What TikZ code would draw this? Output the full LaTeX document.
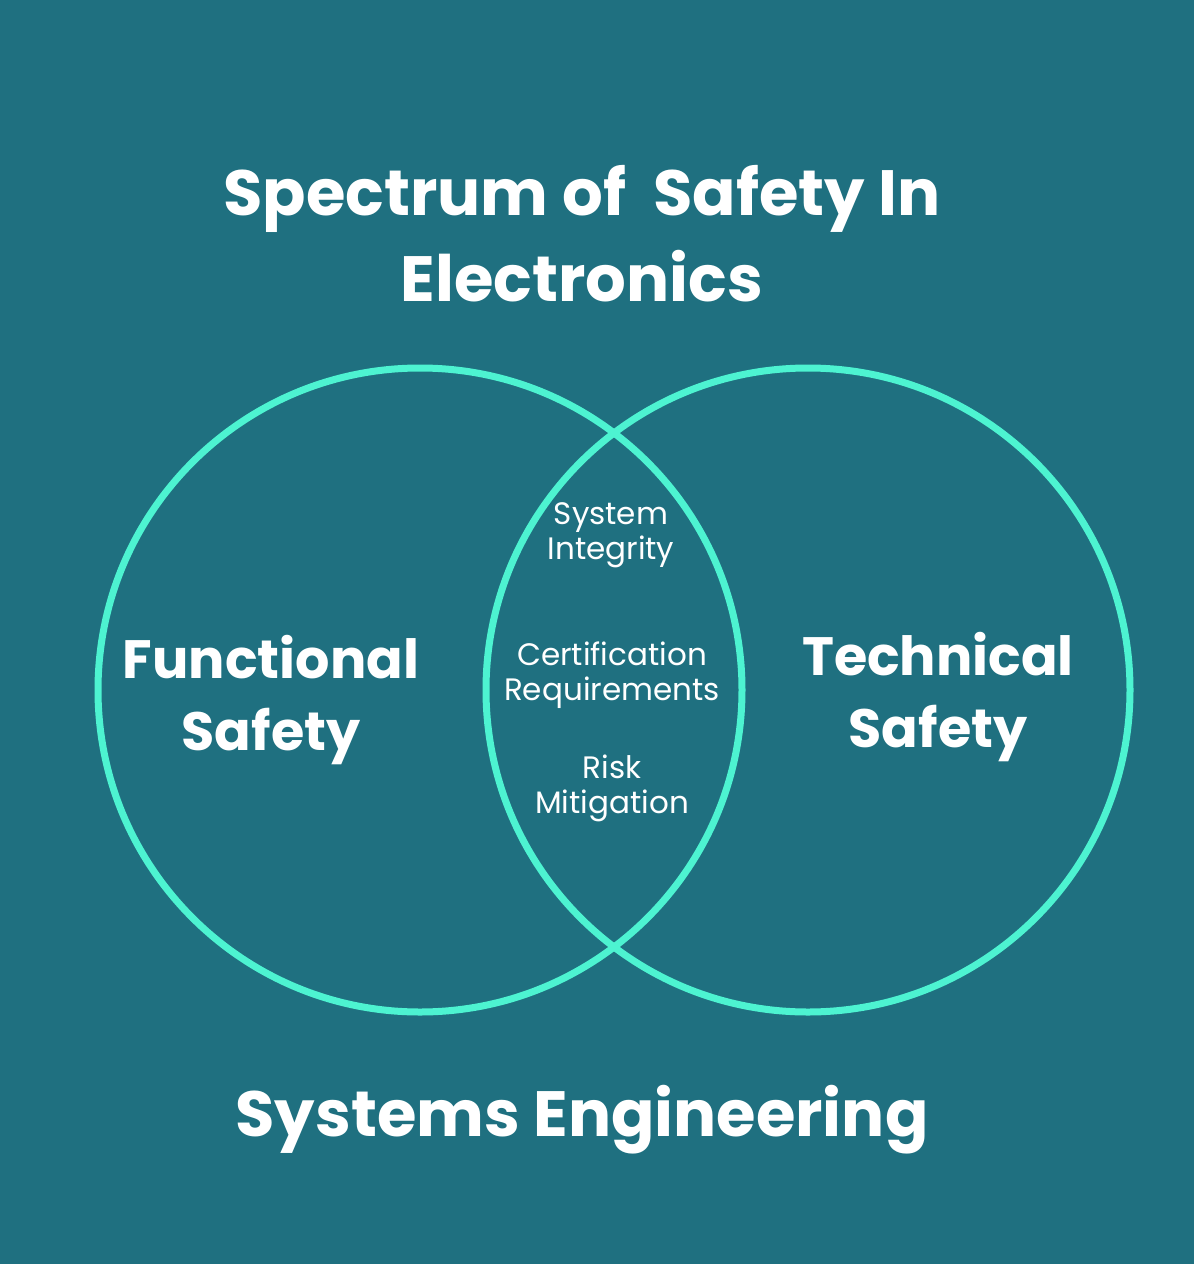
\documentclass[tikz,border=0pt]{standalone}
\usepackage{fontspec}
\setmainfont{Poppins}
\definecolor{bgteal}{HTML}{1F7080}
\definecolor{ringcol}{HTML}{4DF3D1}
\tikzset{
	% ring and text styles for the Venn diagram
	ring/.style={draw=ringcol,line width=7pt},
	big text/.style={text=white,font=\fontsize{64}{86}\selectfont\bfseries,align=center},
	set text/.style={text=white,font=\fontsize{54}{72}\selectfont\bfseries,align=center},
	small text/.style={text=white,font=\fontsize{31}{35}\selectfont,align=center}
}
\begin{document}
\begin{tikzpicture}[x=1pt,y=-1pt]
			\fill[bgteal] (0,0) rectangle (1194,1264);
			\useasboundingbox (0,0) rectangle (1194,1264);
			
			\node(title)[big text] at (582,234){Spectrum of\ \ Safety In\\Electronics};
			\node(left)[ring,circle,minimum size=644pt,inner sep=0] at (420,690){};
			\node(right)[ring,circle,minimum size=644pt,inner sep=0] at (808,690){};
			\node(fs)[set text] at (271,700){Functional\\Safety};
			\node(ts)[set text] at (938,697){Technical\\Safety};
			\node(integrity)[small text] at (611,535){System\\Integrity};
			\node(cert)[small text] at (612,675){Certification\\Requirements};
			\node(risk)[small text] at (612,788){Risk\\Mitigation};
			\node(se)[big text] at (582,1120){Systems Engineering};
		\end{tikzpicture}
\end{document}
